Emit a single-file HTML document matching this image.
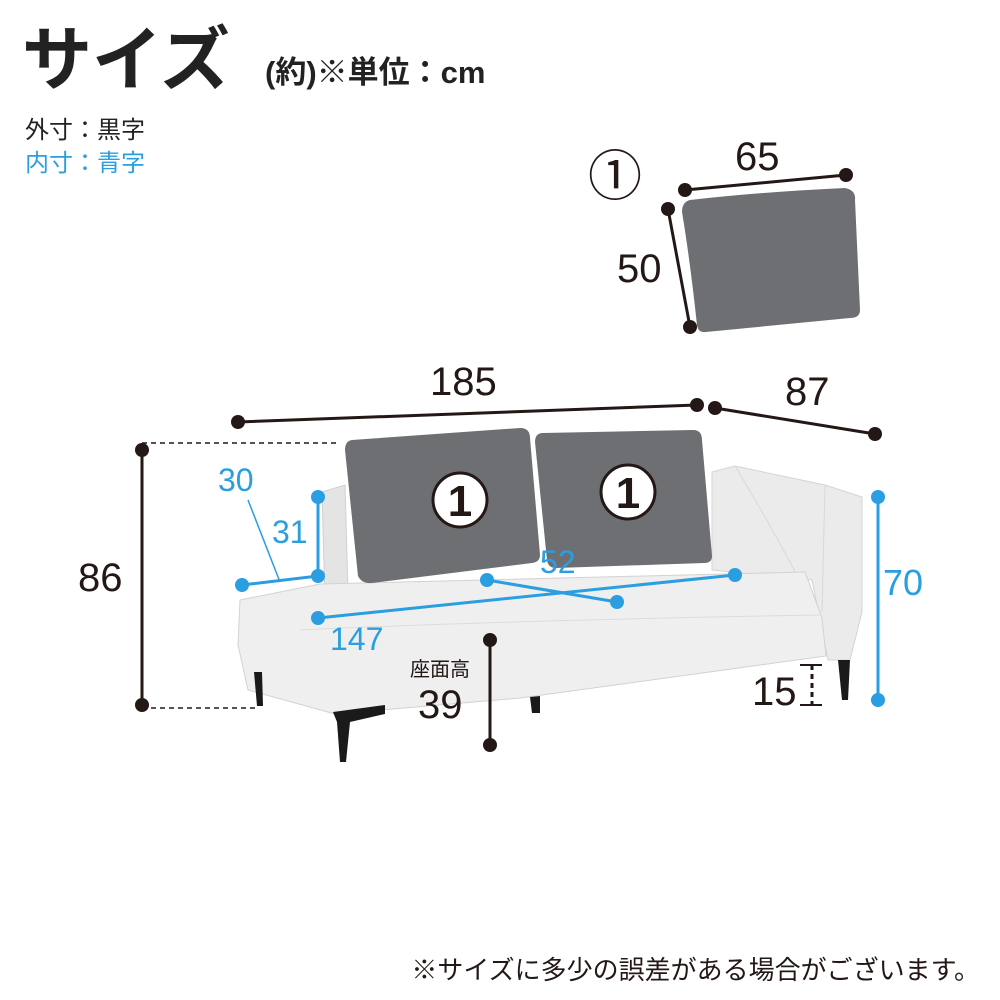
<!DOCTYPE html>
<html><head><meta charset="utf-8"><style>
html,body{margin:0;padding:0;background:#fff;}
svg{display:block;}
text{font-family:"Liberation Sans","Noto Sans CJK JP",sans-serif;}
</style></head><body>
<svg width="1000" height="1000" viewBox="0 0 1000 1000" xmlns="http://www.w3.org/2000/svg">
<text x="22" y="84" font-size="70" font-weight="bold" fill="#222">サイズ</text>
<text x="265" y="83" font-size="31" font-weight="bold" fill="#222">(約)※単位：cm</text>
<text x="25" y="138" font-size="24" fill="#222">外寸：黒字</text>
<text x="25" y="171" font-size="24" fill="#2a9ee0">内寸：青字</text>

<!-- top cushion -->
<path d="M690,200 Q760,192 845,188 Q856,190 855,200 L860,310 Q860,318 850,318 L706,332 Q698,333 697,325 Q690,260 682,212 Q682,202 690,200 Z" fill="#6e6f72"/>
<line x1="685" y1="190" x2="846" y2="175" stroke="#231815" stroke-width="3"/>
<circle cx="685" cy="190" r="7" fill="#231815"/><circle cx="846" cy="175" r="7" fill="#231815"/>
<line x1="668" y1="209" x2="690" y2="327" stroke="#231815" stroke-width="3"/>
<circle cx="668" cy="209" r="7" fill="#231815"/><circle cx="690" cy="327" r="7" fill="#231815"/>
<text x="735" y="170" font-size="40" fill="#231815">65</text>
<text x="617" y="282" font-size="40" fill="#231815">50</text>
<text x="588" y="195" font-size="54" fill="#231815">①</text>

<!-- dims 185 / 87 -->
<line x1="238" y1="422" x2="697" y2="405" stroke="#231815" stroke-width="3"/>
<circle cx="238" cy="422" r="7" fill="#231815"/><circle cx="697" cy="405" r="7" fill="#231815"/>
<text x="430" y="395" font-size="40" fill="#231815">185</text>
<line x1="715" y1="408" x2="875" y2="434" stroke="#231815" stroke-width="3"/>
<circle cx="715" cy="408" r="7" fill="#231815"/><circle cx="875" cy="434" r="7" fill="#231815"/>
<text x="785" y="405" font-size="40" fill="#231815">87</text>

<!-- sofa -->
<polygon points="322,492 345,485 348,592 325,600" fill="#e4e4e4" stroke="#d0d0d0"/>
<polygon points="712,472 735,466 825,485 862,497 862,612 850,660 828,660 820,620 812,580 712,570" fill="#ebebeb" stroke="#d4d4d4"/>
<path d="M735,466 Q780,540 820,620" stroke="#d8d8d8" fill="none"/>
<line x1="825" y1="485" x2="822" y2="612" stroke="#d8d8d8"/>
<polygon points="240,600 320,584 805,572 822,618 826,656 520,698 335,714 248,690 238,645" fill="#efefef" stroke="#d2d2d2"/>
<path d="M300,630 Q520,620 820,615" stroke="#dcdcdc" fill="none"/>
<!-- legs -->
<polygon points="254,672 262,672 263,706 257,706" fill="#1a1a1a"/>
<polygon points="333,712 385,705 385,714 350,722 346,762 340,762 337,722" fill="#1a1a1a"/>
<polygon points="530,697 540,696 540,713 532,713" fill="#1a1a1a"/>
<polygon points="838,660 850,660 848,700 842,700" fill="#1a1a1a"/>
<!-- cushions -->
<path d="M352,440 L520,428 Q530,428 530,438 L540,555 Q540,562 532,563 L372,583 Q362,584 358,576 L345,450 Q345,441 352,440 Z" fill="#6e6f72"/>
<path d="M543,433 L693,430 Q702,430 702,440 L712,556 Q712,563 704,563 L556,568 Q548,568 547,560 L535,442 Q535,433 543,433 Z" fill="#6e6f72"/>
<circle cx="460" cy="500" r="27" fill="#fff" stroke="#231815" stroke-width="3"/>
<text x="460" y="516" font-size="44" font-weight="bold" text-anchor="middle" fill="#231815">1</text>
<circle cx="628" cy="492" r="27" fill="#fff" stroke="#231815" stroke-width="3"/>
<text x="628" y="508" font-size="44" font-weight="bold" text-anchor="middle" fill="#231815">1</text>

<!-- 86 -->
<line x1="142" y1="443" x2="340" y2="443" stroke="#231815" stroke-width="1.5" stroke-dasharray="5,4"/>
<line x1="142" y1="708" x2="258" y2="708" stroke="#231815" stroke-width="1.5" stroke-dasharray="5,4"/>
<line x1="142" y1="450" x2="142" y2="705" stroke="#231815" stroke-width="3"/>
<circle cx="142" cy="450" r="7" fill="#231815"/><circle cx="142" cy="705" r="7" fill="#231815"/>
<text x="78" y="591" font-size="40" fill="#231815">86</text>

<!-- blue dims -->
<g stroke="#2a9ee0" stroke-width="3" fill="#2a9ee0">
<line x1="878" y1="497" x2="878" y2="700"/><circle cx="878" cy="497" r="7" stroke="none"/><circle cx="878" cy="700" r="7" stroke="none"/>
<line x1="242" y1="585" x2="318" y2="576"/><circle cx="242" cy="585" r="7" stroke="none"/><circle cx="318" cy="576" r="7" stroke="none"/>
<line x1="248" y1="500" x2="280" y2="582" stroke-width="1.5"/>
<line x1="318" y1="497" x2="318" y2="576"/><circle cx="318" cy="497" r="7" stroke="none"/>
<line x1="318" y1="618" x2="735" y2="575"/><circle cx="318" cy="618" r="7" stroke="none"/><circle cx="735" cy="575" r="7" stroke="none"/>
<line x1="487" y1="580" x2="617" y2="602"/><circle cx="487" cy="580" r="7" stroke="none"/><circle cx="617" cy="602" r="7" stroke="none"/>
</g>
<g fill="#2a9ee0" font-size="32">
<text x="218" y="491">30</text>
<text x="272" y="543">31</text>
<text x="540" y="573">52</text>
<text x="330" y="650">147</text>
<text x="883" y="595" font-size="36">70</text>
</g>

<!-- 39 -->
<line x1="490" y1="640" x2="490" y2="745" stroke="#231815" stroke-width="3"/>
<circle cx="490" cy="640" r="7" fill="#231815"/><circle cx="490" cy="745" r="7" fill="#231815"/>
<text x="410" y="676" font-size="20" fill="#231815">座面高</text>
<text x="418" y="718" font-size="40" fill="#231815">39</text>

<!-- 15 -->
<line x1="812" y1="665" x2="812" y2="705" stroke="#231815" stroke-width="3" stroke-dasharray="5,4"/>
<line x1="800" y1="665" x2="822" y2="665" stroke="#231815" stroke-width="2"/>
<line x1="800" y1="705" x2="822" y2="705" stroke="#231815" stroke-width="2"/>
<text x="752" y="705" font-size="40" fill="#231815">15</text>

<text x="980" y="979" font-size="26" text-anchor="end" fill="#231815">※サイズに多少の誤差がある場合がございます。</text>
</svg>
</body></html>
